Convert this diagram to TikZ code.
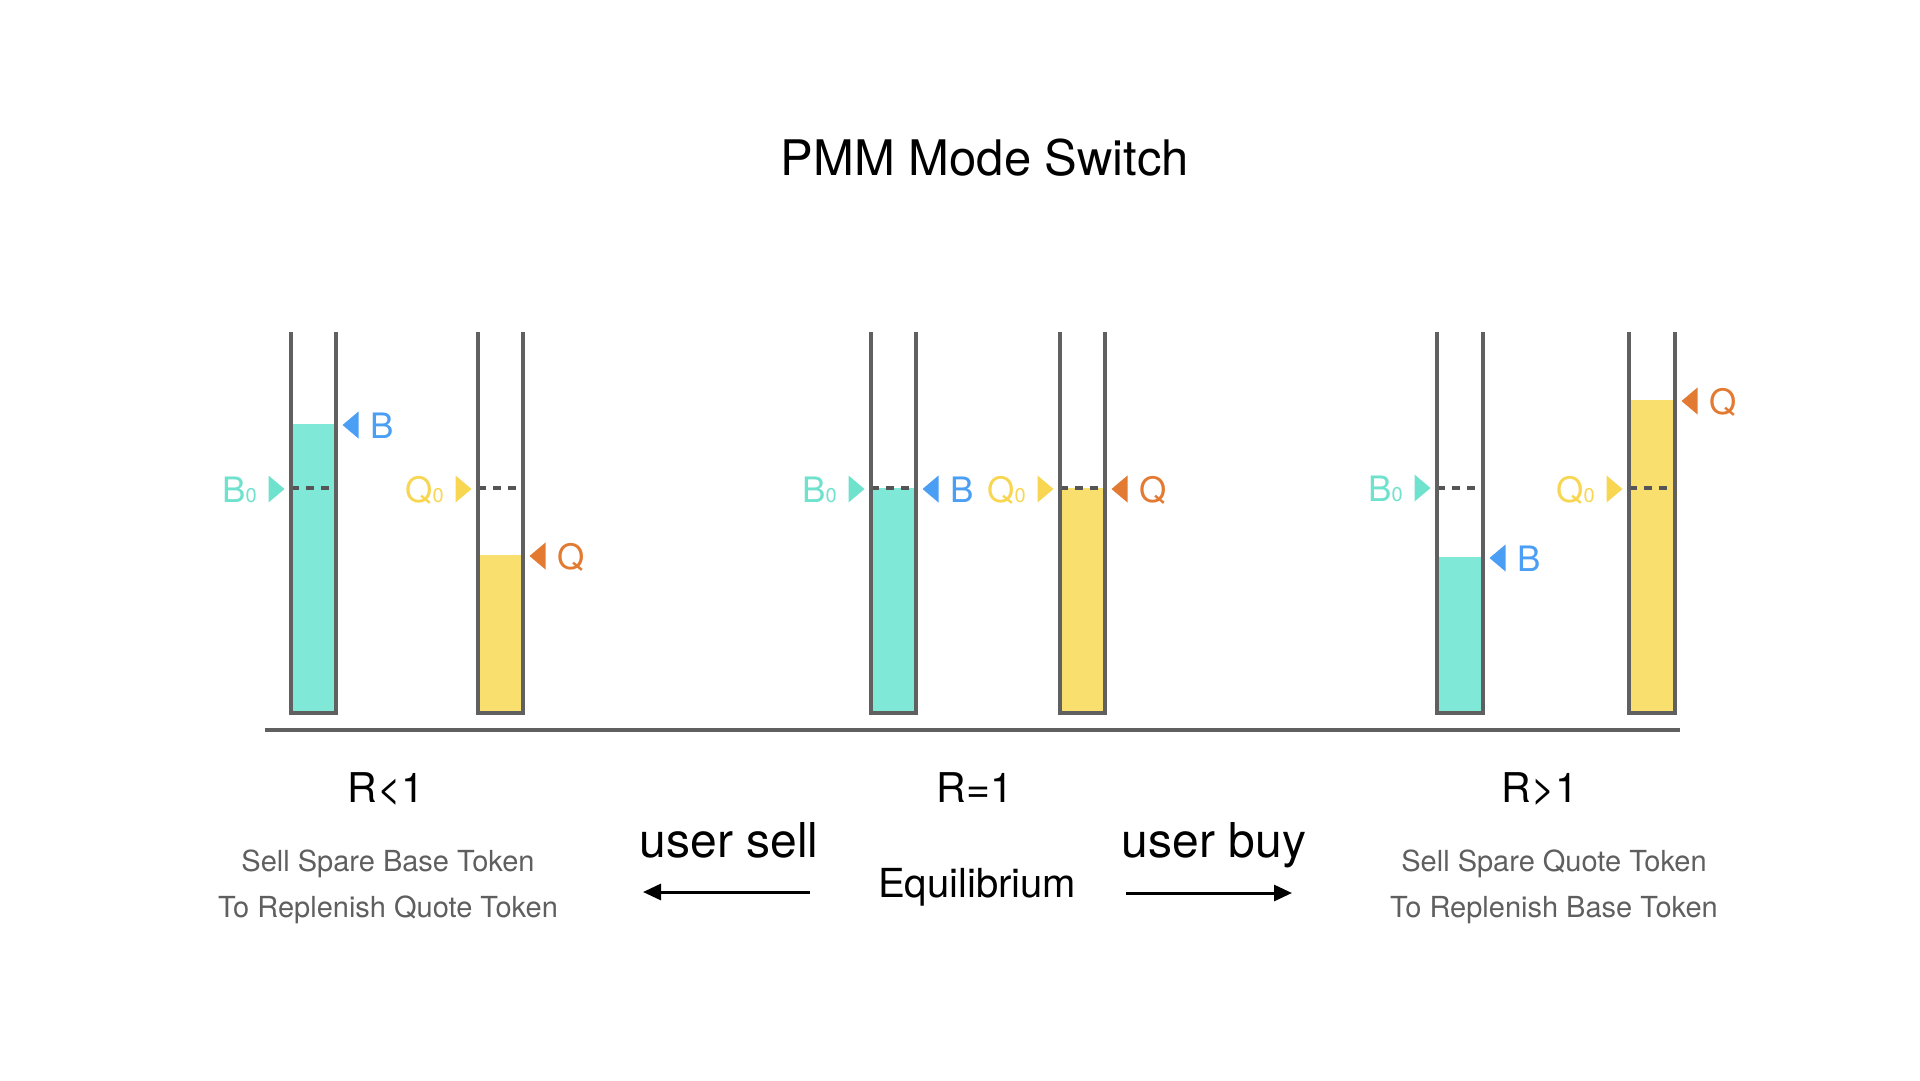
\documentclass[tikz,border=0pt]{standalone}
\usepackage{fontspec}
\setmainfont{TeX Gyre Heros}
\usetikzlibrary{arrows.meta}
\definecolor{wallgray}{HTML}{606060}
\definecolor{dashgray}{HTML}{555555}
\definecolor{tealfill}{HTML}{80E8D6}
\definecolor{tealmark}{HTML}{6FE2CE}
\definecolor{yellowfill}{HTML}{F9DF6E}
\definecolor{yellowmark}{HTML}{F8D652}
\definecolor{bluemark}{HTML}{4A9FF5}
\definecolor{orangemark}{HTML}{E37A31}
\definecolor{subgray}{HTML}{5F5F5F}
\newcommand{\fsz}[1]{\fontsize{#1}{#1}\selectfont}
\newcommand{\zsub}{\fontsize{20}{20}\selectfont 0}
% name, left wall x, right wall x, fill top y, fill colour
\newcommand{\mytube}[5]{%
  \fill[#5] (#2,#4) rectangle (#3,713);
  \draw[dashline] (#2,488) -- (#3,488);
  \draw[wall] (#2,332) -- (#2,713) coordinate (#1-bl) -- (#3,713) coordinate (#1-br) -- (#3,332);
}
% name, right wall x, centre y, colour, text
\newcommand{\rmark}[5]{%
  \fill[#4] (#2+6.5,#3) -- (#2+22.5,#3-13.5) -- (#2+22.5,#3+13.5) -- cycle;
  \node[marktext, text=#4, anchor=base west] (#1) at (#2+34,#3+13) {#5};
}
% name, left wall x, centre y, colour, text
\newcommand{\lmark}[5]{%
  \fill[#4] (#2-6.5,#3) -- (#2-22.5,#3-13.5) -- (#2-22.5,#3+13.5) -- cycle;
  \node[marktext, text=#4, anchor=base east] (#1) at (#2-34,#3+13) {#5};
}
\begin{document}
\begin{tikzpicture}[x=1pt,y=-1pt,
  wall/.style={draw=wallgray, line width=3.5pt, line join=miter},
  dashline/.style={draw=dashgray, line width=4pt, dash pattern=on 8pt off 7pt},
  marktext/.style={inner sep=0pt, font=\fsz{35}},
  plain/.style={inner sep=0pt, anchor=base},
  flowarrow/.style={draw=black, line width=3pt, -{Triangle[length=18pt,width=16pt]}}]
\path[use as bounding box, fill=white] (0,0) rectangle (1920,1080);

\node[plain, font=\fsz{49}] (title) at (985,175) {PMM Mode Switch};

% tubes
\mytube{t1}{291}{336}{424}{tealfill}
\mytube{t2}{478}{523}{555}{yellowfill}
\mytube{t3}{871}{916}{488}{tealfill}
\mytube{t4}{1060}{1105}{488}{yellowfill}
\mytube{t5}{1437}{1483}{557}{tealfill}
\mytube{t6}{1629}{1675}{400}{yellowfill}

% markers
\lmark{b0a}{291}{489}{tealmark}{B\zsub}
\rmark{ba}{336}{425}{bluemark}{B}
\lmark{q0a}{478}{489}{yellowmark}{Q\zsub}
\rmark{qa}{523}{556}{orangemark}{Q}

\lmark{b0b}{871}{489}{tealmark}{B\zsub}
\rmark{bb}{916}{489}{bluemark}{B}
\lmark{q0b}{1060}{489}{yellowmark}{Q\zsub}
\rmark{qb}{1105}{489}{orangemark}{Q}

\lmark{b0c}{1437}{488}{tealmark}{B\zsub}
\rmark{bc}{1483}{558}{bluemark}{B}
\lmark{q0c}{1629}{489}{yellowmark}{Q\zsub}
\rmark{qc}{1675}{401}{orangemark}{Q}

% ground line
\coordinate (g1) at (265,730);
\coordinate (g2) at (1680,730);
\draw[draw=wallgray, line width=3.5pt] (g1) -- (g2);

% state labels
\node[plain, font=\fsz{41}] (rl) at (386,802) {R<1};
\node[plain, font=\fsz{41}] (re) at (975,802) {R=1};
\node[plain, font=\fsz{41}] (rg) at (1540,802) {R>1};

\node[plain, font=\fsz{29}, text=subgray] (l1) at (388,871) {Sell Spare Base Token};
\node[plain, font=\fsz{29}, text=subgray] (l2) at (388,917) {To Replenish Quote Token};
\node[plain, font=\fsz{29}, text=subgray] (r1) at (1554,871) {Sell Spare Quote Token};
\node[plain, font=\fsz{29}, text=subgray] (r2) at (1554,917) {To Replenish Base Token};

\node[plain, font=\fsz{40}] (eq) at (977,897) {Equilibrium};
\node[plain, font=\fsz{48}] (us) at (729,857) {user sell};
\node[plain, font=\fsz{48}] (ub) at (1214,857) {user buy};

% arrows
\coordinate (as1) at (810,892);
\coordinate (as2) at (643,892);
\coordinate (ab1) at (1126,893);
\coordinate (ab2) at (1292,893);
\draw[flowarrow] (as1) -- (as2);
\draw[flowarrow] (ab1) -- (ab2);
\end{tikzpicture}
\end{document}
